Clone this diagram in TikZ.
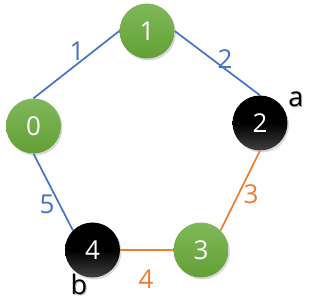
\documentclass[tikz,border=0pt]{standalone}
\usepackage{fontspec}
\setmainfont{Open Sans}
\usetikzlibrary{shadows}
\definecolor{gtop}{HTML}{80B85A}
\definecolor{gbot}{HTML}{62A035}
\definecolor{eblue}{HTML}{4472C4}
\definecolor{eorange}{HTML}{ED7D31}
\tikzset{
  vert/.style={circle, minimum size=55pt, inner sep=0pt, text=white,
    font=\fontsize{26}{26}\selectfont,
    drop shadow={opacity=0.3, shadow xshift=1.5pt, shadow yshift=-2pt}},
  gv/.style={vert, top color=gtop, bottom color=gbot},
  bv/.style={vert, top color=black, bottom color=black!75!white, middle color=black},
  bedge/.style={draw=eblue, line width=1.7pt},
  oedge/.style={draw=eorange, line width=1.7pt},
  blab/.style={text=eblue, font=\fontsize{26}{26}\selectfont},
  olab/.style={text=eorange, font=\fontsize{26}{26}\selectfont},
  klab/.style={text=black, font=\fontsize{27}{27}\selectfont},
  kshad/.style={text=black!35, font=\fontsize{27}{27}\selectfont}
}
\begin{document}
\begin{tikzpicture}[x=1pt,y=-1pt]
\useasboundingbox (0,0) rectangle (333,307);
\node[gv] (n1) at (147,31) {1};
\node[gv] (n0) at (33.5,126) {0};
\node[bv] (n2) at (260,123) {2};
\node[gv] (n3) at (201,250) {3};
\node[bv] (n4) at (92.5,250) {4};
\path[bedge] (n0.north) -- (n1.west);
\path[bedge] (n1.east) -- (n2.north);
\path[oedge] (n2.south) -- (n3.north east);
\path[oedge] (n4.east) -- (n3.west);
\path[bedge] (n0.south) -- (n4.north west);
\node[blab] (l1) at (77,51) {1};
\node[blab] (l2) at (225,59) {2};
\node[olab] (l3) at (251,194) {3};
\node[olab] (l4) at (146,279) {4};
\node[blab] (l5) at (47,204) {5};
\node[kshad] (sa) at (297,100) {a};
\node[klab] (la) at (296,99) {a};
\node[kshad] (sb) at (80,285) {b};
\node[klab] (lb) at (79,284) {b};
\end{tikzpicture}
\end{document}
